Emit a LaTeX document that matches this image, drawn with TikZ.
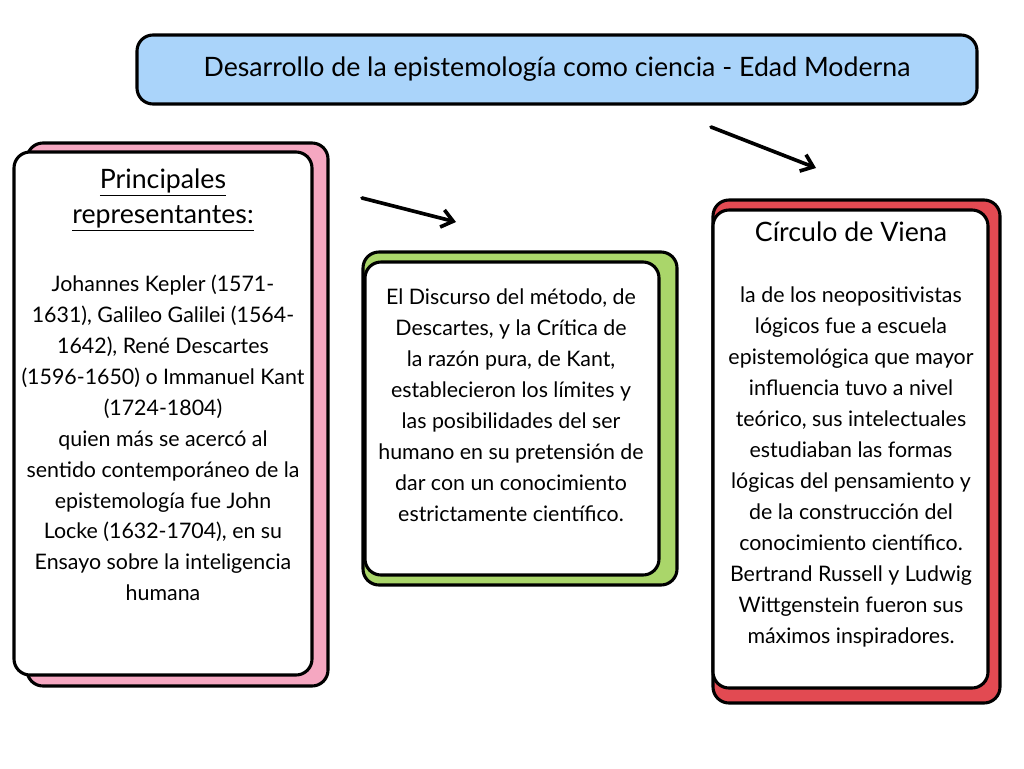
\documentclass[tikz,border=0pt]{standalone}
\usepackage{fontspec}
\setmainfont{Lato}
\usetikzlibrary{
		positioning,
		arrows.meta
	}
\definecolor{tituloazul}{RGB}{170,212,250}
\definecolor{tarjetarosa}{RGB}{245,167,193}
\definecolor{tarjetaverde}{RGB}{170,214,106}
\definecolor{tarjetaroja}{RGB}{226,74,82}
\tikzset{
		>=Stealth,
		caja/.style={line width=2.2pt, rounded corners=4mm},
		texto/.style={align=center, font=\fontsize{15.2}{22}\selectfont},
		rotulo/.style={align=center, font=\fontsize{19}{25}\selectfont},
		flecha/.style={line width=2.6pt, line cap=round, -{Straight Barb[length=2.8mm, width=4.4mm, line width=2.6pt]}}
	}

\begin{document}
\begin{tikzpicture}[x=0.25mm, y=-0.25mm]
		\useasboundingbox (0,0) rectangle (1024,768);
		% titulo
		\draw[caja, fill=tituloazul] (137,35) rectangle (977,104);
		\node[rotulo] (titulo) at (557,69) {Desarrollo de la epistemología como ciencia - Edad Moderna};
		% tarjeta izquierda
		\draw[caja, fill=tarjetarosa] (27,143) rectangle (328,686);
		\draw[caja, fill=white] (14,152) rectangle (312,675);
		\node[rotulo] (representantes) at (163,200) {\underline{Principales}\\ \underline{representantes:}};
		\node[texto] (kepler) at (163,438) {Johannes Kepler (1571-\\1631), Galileo Galilei (1564-\\1642), René Descartes\\(1596-1650) o Immanuel Kant\\(1724-1804)\\quien más se acercó al\\sentido contemporáneo de la\\epistemología fue John\\Locke (1632-1704), en su\\Ensayo sobre la inteligencia\\humana};
		% tarjeta central
		\draw[caja, fill=tarjetaverde] (363,252) rectangle (677,585);
		\draw[caja, fill=white] (365,262) rectangle (659,575);
		\node[texto] (discurso) at (511,405) {El Discurso del método, de\\Descartes, y la Crítica de\\la razón pura, de Kant,\\establecieron los límites y\\las posibilidades del ser\\humano en su pretensión de\\dar con un conocimiento\\estrictamente científico.};
		% tarjeta derecha
		\draw[caja, fill=tarjetaroja] (713,200) rectangle (1000,703);
		\draw[caja, fill=white] (713,210) rectangle (988,688);
		\node[rotulo] (viena) at (851,232) {Círculo de Viena};
		\node[texto] (neopositivistas) at (851,467) {la de los neopositivistas\\lógicos fue a escuela\\epistemológica que mayor\\influencia tuvo a nivel\\teórico, sus intelectuales\\estudiaban las formas\\lógicas del pensamiento y\\de la construcción del\\conocimiento científico.\\Bertrand Russell y Ludwig\\Wittgenstein fueron sus\\máximos inspiradores.};
		% flechas
		\coordinate (f1a) at (362,198); \coordinate (f1b) at (456,222);
		\coordinate (f2a) at (711,127); \coordinate (f2b) at (816,168);
		\draw[flecha] (f1a) -- (f1b);
		\draw[flecha] (f2a) -- (f2b);
	\end{tikzpicture}
\end{document}
